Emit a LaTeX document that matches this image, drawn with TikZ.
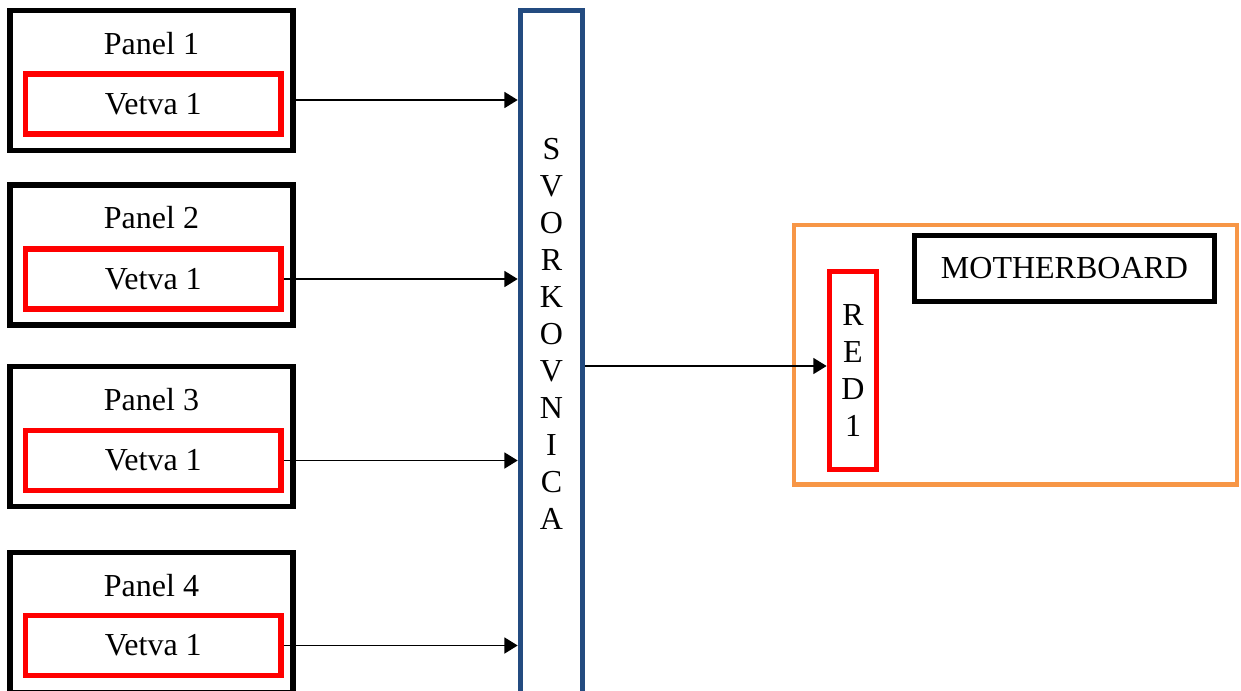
\documentclass[tikz,border=0pt]{standalone}
\usepackage{fontspec}
\setmainfont{Liberation Serif}
\usetikzlibrary{arrows.meta}
\definecolor{busblue}{RGB}{35,75,128}
\definecolor{mborange}{RGB}{247,150,70}
\definecolor{vred}{RGB}{255,0,0}
\begin{document}
\begin{tikzpicture}[x=0.75pt,y=-0.75pt,
  txt/.style={font=\fontsize{24}{27.75}\selectfont, inner sep=0pt},
  panelbox/.style={draw=black, line width=4.3pt, minimum width=283*0.75pt, minimum height=140*0.75pt, inner sep=0pt},
  branchbox/.style={draw=vred, line width=4.3pt, minimum width=255.5*0.75pt, minimum height=60*0.75pt, inner sep=0pt, txt},
  arr/.style={line width=1.3pt, -{Triangle[length=10pt,width=12pt]}}
]
\useasboundingbox (0,0) rectangle (1241,690);

% panels with their branches
\foreach \i/\yc/\yr/\yl in {1/80.5/104/43.5, 2/254.75/279/218, 3/436.5/460.5/399.5, 4/622.5/645.5/585.5}{
  \node[panelbox] (p\i) at (151.5,\yc) {};
  \node[txt] (pl\i) at (151.5,\yl) {Panel \i};
  \node[branchbox] (r\i) at (153.25,\yr) {Vetva 1};
}

% terminal strip
\node[draw=busblue, line width=4.2pt, minimum width=62*0.75pt, minimum height=700*0.75pt, inner sep=0pt] (svork) at (551.5,360.5) {};
\node[txt, align=center] (svorktext) at (551.5,334) {S\\V\\O\\R\\K\\O\\V\\N\\I\\C\\A};

% motherboard
\node[draw=mborange, line width=3.4pt, minimum width=443*0.75pt, minimum height=259.5*0.75pt, inner sep=0pt] (mb) at (1015.5,354.75) {};
\node[draw=black, line width=4.3pt, minimum width=300*0.75pt, minimum height=66*0.75pt, inner sep=0pt, txt] (mblabel) at (1064.5,268.5) {MOTHERBOARD};
\node[draw=vred, line width=4.3pt, minimum width=47*0.75pt, minimum height=198*0.75pt, inner sep=0pt, txt, align=center] (red1) at (853,370.5) {R\\E\\D\\1};

% connections
\coordinate (y1) at (0,100);
\coordinate (ym) at (0,366);
\draw[arr] (p1.east |- y1) -- (svork.west |- y1);
\draw[arr] (r2.east) -- (svork.west |- r2.east);
\draw[arr] (r3.east) -- (svork.west |- r3.east);
\draw[arr] (r4.east) -- (svork.west |- r4.east);
\draw[arr] (svork.east |- ym) -- (red1.west |- ym);
\end{tikzpicture}
\end{document}
